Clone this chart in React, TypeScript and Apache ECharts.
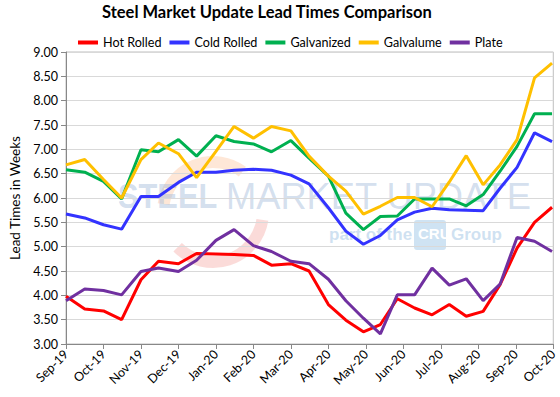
import React, { useEffect, useRef } from "react";
import * as echarts from "echarts";

const monthLabels = ["Sep-19","Oct-19","Nov-19","Dec-19","Jan-20","Feb-20","Mar-20","Apr-20","May-20","Jun-20","Jul-20","Aug-20","Sep-20","Oct-20"];

const dates = [
  "2019-09-01","2019-09-16","2019-10-01","2019-10-16","2019-11-01","2019-11-15","2019-12-01","2019-12-16",
  "2020-01-01","2020-01-16","2020-02-01","2020-02-15","2020-03-01","2020-03-16","2020-04-01","2020-04-15",
  "2020-04-29","2020-05-13","2020-05-27","2020-06-10","2020-06-24","2020-07-08","2020-07-22","2020-08-05",
  "2020-08-19","2020-09-02","2020-09-16","2020-09-30"
];

const hotRolled = [3.98,3.72,3.68,3.50,4.32,4.70,4.65,4.86,4.85,4.84,4.82,4.62,4.65,4.50,3.81,3.49,3.25,3.40,3.93,3.74,3.60,3.81,3.57,3.67,4.22,4.97,5.50,5.81];
const coldRolled = [5.67,5.59,5.45,5.36,6.03,6.03,6.32,6.53,6.53,6.57,6.59,6.57,6.47,6.29,5.80,5.32,5.05,5.23,5.55,5.71,5.79,5.76,5.75,5.74,6.20,6.63,7.34,7.16];
const galvanized = [6.58,6.53,6.34,5.98,6.99,6.95,7.20,6.86,7.28,7.16,7.11,6.95,7.18,6.82,6.45,5.69,5.35,5.62,5.63,5.98,5.98,5.98,5.84,6.07,6.55,7.06,7.73,7.73];
const galvalume = [6.68,6.79,6.38,6.00,6.79,7.13,6.91,6.42,6.96,7.47,7.23,7.47,7.38,6.86,6.45,6.14,5.67,5.83,6.01,6.01,5.82,6.33,6.87,6.27,6.68,7.20,8.47,8.77];
const plate = [3.89,4.13,4.10,4.01,4.49,4.56,4.49,4.72,5.13,5.35,5.02,4.90,4.70,4.65,4.33,3.89,3.53,3.21,4.01,4.01,4.56,4.21,4.34,3.89,4.23,5.19,5.11,4.90];

const seriesNames = ["Hot Rolled","Cold Rolled","Galvanized","Galvalume","Plate"];
const seriesColors = ["#ff0000","#3333ff","#00b050","#ffc000","#7030a0"];
const seriesValues = [hotRolled, coldRolled, galvanized, galvalume, plate];

function monthPos(d: string): number {
  const [y, m, day] = d.split("-").map(Number);
  const dim = new Date(y, m, 0).getDate();
  return (y - 2019) * 12 + (m - 9) + (day - 1) / dim;
}

const FONT = "Lato, 'Liberation Sans', sans-serif";

export default function App() {
  const ref = useRef<HTMLDivElement>(null);
  useEffect(() => {
    if (!ref.current) return;
    const chart = echarts.init(ref.current, null, { renderer: "svg" });
    const xs = dates.map(monthPos);
    chart.setOption({
      animation: false,
      backgroundColor: "#ffffff",
      textStyle: { fontFamily: FONT },
      title: {
        text: "Steel Market Update Lead Times Comparison",
        left: 102,
        top: 3,
        padding: 0,
        textStyle: { fontFamily: FONT, fontSize: 16.5, fontWeight: "bold", color: "#000" },
      },
      legend: {
        top: 36,
        left: 78,
        itemWidth: 20,
        itemHeight: 4,
        itemGap: 8,
        icon: "rect",
        padding: 0,
        textStyle: { fontFamily: FONT, fontSize: 12.6, color: "#000" },
        data: seriesNames,
      },
      grid: { left: 62, right: 6, top: 52, bottom: 53, show: true, borderColor: "#bfbfbf", borderWidth: 1 },
      xAxis: {
        type: "value",
        min: 0,
        max: 13,
        interval: 1,
        axisLine: { show: true, lineStyle: { color: "#888888" } },
        axisTick: { show: true, length: 5, lineStyle: { color: "#888888" } },
        splitLine: { show: false },
        axisLabel: {
          rotate: 45,
          fontFamily: FONT,
          fontSize: 12.5,
          color: "#000",
          margin: 8,
          formatter: (v: number) => monthLabels[Math.round(v)] ?? "",
        },
      },
      yAxis: {
        type: "value",
        min: 3,
        max: 9,
        interval: 0.5,
        name: "Lead Times in Weeks",
        nameLocation: "middle",
        nameGap: 44,
        nameTextStyle: { fontFamily: FONT, fontSize: 13.5, color: "#000" },
        axisLine: { show: true, lineStyle: { color: "#888888" } },
        axisTick: { show: true, length: 5, lineStyle: { color: "#888888" } },
        splitLine: { show: true, lineStyle: { color: "#d9d9d9", width: 1 } },
        axisLabel: {
          fontFamily: FONT,
          fontSize: 12.5,
          color: "#000",
          margin: 8,
          formatter: (v: number) => v.toFixed(2),
        },
      },
      graphic: [
        { type: "arc", z: -1, shape: { cx: 213, cy: 212, r: 50, startAngle: -Math.PI * 0.95, endAngle: -Math.PI * 0.3 }, style: { stroke: "rgba(250,170,110,0.28)", lineWidth: 12, fill: "none" } },
        { type: "arc", z: -1, shape: { cx: 213, cy: 212, r: 50, startAngle: Math.PI * 0.05, endAngle: Math.PI * 0.75 }, style: { stroke: "rgba(235,90,80,0.22)", lineWidth: 12, fill: "none" } },
        { type: "text", z: -1, x: 118, y: 178, scaleX: 0.88, style: { text: "STEEL", font: "bold 35px 'Liberation Sans', sans-serif", fill: "rgba(160,185,218,0.45)" } },
        { type: "text", z: -1, x: 226, y: 178, scaleX: 0.98, style: { text: "MARKET UPDATE", font: "37px 'Liberation Sans', sans-serif", fill: "rgba(160,185,218,0.45)" } },
        { type: "text", z: -1, left: 329, top: 226, style: { text: "part of the", font: "bold 17px 'Liberation Sans', sans-serif", fill: "rgba(175,205,232,0.6)" } },
        { type: "rect", z: -1, shape: { x: 414, y: 220, width: 32, height: 30, r: 3 }, style: { fill: "rgba(175,208,235,0.6)" } },
        { type: "text", z: -1, left: 418, top: 226, style: { text: "CRU", font: "bold 15px 'Liberation Sans Narrow', 'Liberation Sans', sans-serif", fill: "#ffffff" } },
        { type: "text", z: -1, left: 451, top: 226, style: { text: "Group", font: "bold 17px 'Liberation Sans', sans-serif", fill: "rgba(175,205,232,0.6)" } },
      ],
      series: seriesNames.map((name, i) => ({
        name,
        type: "line",
        symbol: "none",
        smooth: false,
        lineStyle: { color: seriesColors[i], width: 3 },
        itemStyle: { color: seriesColors[i] },
        data: seriesValues[i].map((v, k) => [xs[k], v]),
      })),
    });
    return () => chart.dispose();
  }, []);
  return <div ref={ref} style={{ width: 560, height: 397, position: "fixed", left: 0, top: 0 }} />;
}
